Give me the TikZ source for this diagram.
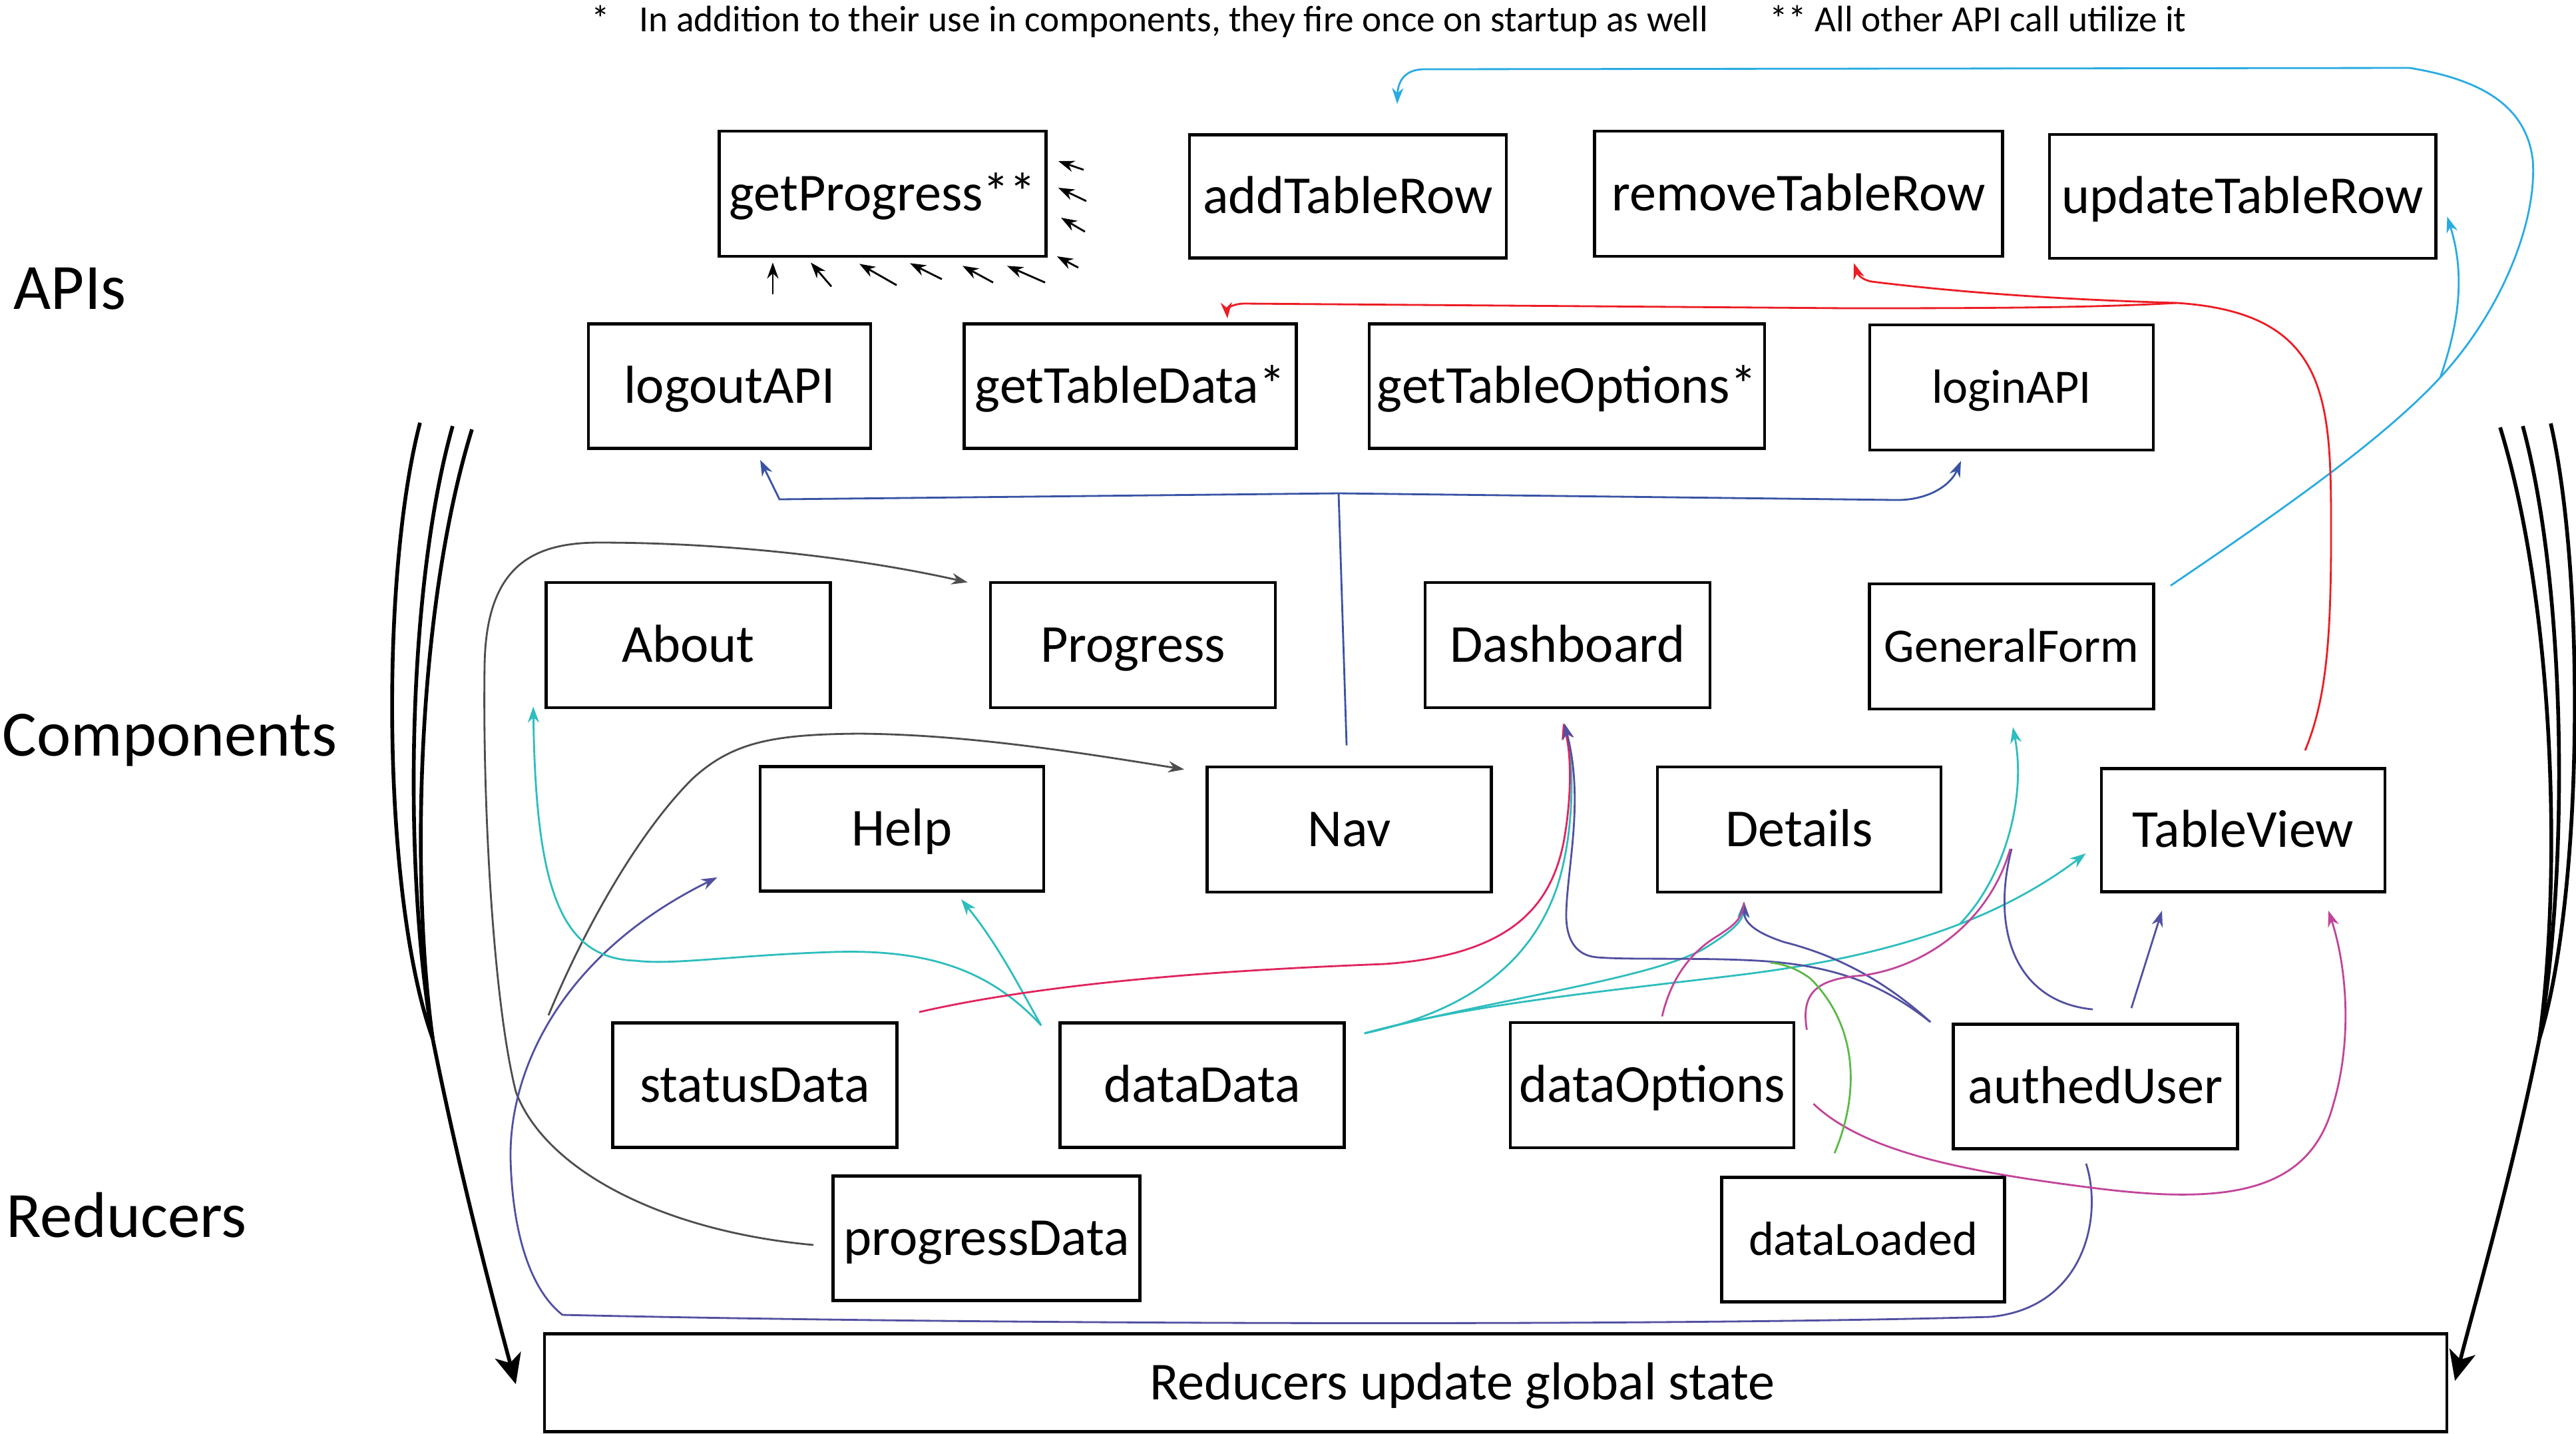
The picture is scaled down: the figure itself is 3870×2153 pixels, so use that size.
\documentclass[tikz,border=0pt]{standalone}
\usepackage{fontspec}
\setmainfont{Carlito}
\usetikzlibrary{arrows.meta,calc}
\definecolor{skyc}{HTML}{29ABE2}
\definecolor{redc}{HTML}{ED1C24}
\definecolor{bluec}{HTML}{3953A4}
\definecolor{grayc}{HTML}{4D4D4D}
\definecolor{purc}{HTML}{5250A1}
\definecolor{tealc}{HTML}{2EBDBE}
\definecolor{crimc}{HTML}{E0245E}
\definecolor{magc}{HTML}{C2449A}
\definecolor{greenc}{HTML}{5CB947}
\begin{document}
\begin{tikzpicture}[x=0.01cm,y=-0.01cm,
  box/.style={draw,line width=1.3pt,inner sep=0pt,font=\fontsize{22.8}{26}\selectfont,text height=17pt,text depth=2.3pt},
  sbox/.style={box,font=\fontsize{20.5}{24}\selectfont,text height=15.5pt,text depth=2.3pt},
  wire/.style={line width=0.8pt},
  conn/.style={wire,-{Stealth[length=0.24cm,width=0.17cm]}},
  big/.style={line width=1.6pt,black},
  bigtip/.style={big,-{Stealth[length=0.45cm,width=0.4cm,inset=0.12cm]}},
  lab/.style={anchor=base west,inner sep=0pt,font=\fontsize{27.6}{30}\selectfont},
  fnote/.style={anchor=base west,inner sep=0pt,font=\fontsize{15.75}{18}\selectfont}]
\fill[white] (0,0) rectangle (3870,2153);
\useasboundingbox (0,0) rectangle (3870,2153);

% footnotes and row labels
\node[fnote] (fn1) at (888,47) {*};
\node[fnote] (fn2) at (960,47) {In addition to their use in components, they fire once on startup as well};
\node[fnote] (fn3) at (2658,47) {** All other API call utilize it};
\node[lab] (lapi) at (20,464) {APIs};
\node[lab] (lcomp) at (3,1135) {Components};
\node[lab] (lred) at (9,1858) {Reducers};

% APIs
\node[box,minimum width=4.91cm,minimum height=1.88cm] (gp) at (1326,291) {getProgress**};
\node[box,minimum width=4.76cm,minimum height=1.85cm] (add) at (2025,295) {addTableRow};
\node[box,minimum width=6.13cm,minimum height=1.88cm] (rem) at (2702,291) {removeTableRow};
\node[box,minimum width=5.80cm,minimum height=1.86cm] (upd) at (3369,295) {updateTableRow};
\node[box,minimum width=4.24cm,minimum height=1.87cm] (logout) at (1096,580) {logoutAPI};
\node[box,minimum width=4.99cm,minimum height=1.87cm] (gtd) at (1698,580) {getTableData*};
\node[box,minimum width=5.94cm,minimum height=1.87cm] (gto) at (2354,580) {getTableOptions*};
\node[sbox,minimum width=4.26cm,minimum height=1.88cm] (login) at (3022,582) {loginAPI};
% Components
\node[box,minimum width=4.27cm,minimum height=1.88cm] (about) at (1034,969) {About};
\node[box,minimum width=4.28cm,minimum height=1.88cm] (prog) at (1702,969) {Progress};
\node[box,minimum width=4.28cm,minimum height=1.88cm] (dash) at (2355,969) {Dashboard};
\node[sbox,minimum width=4.27cm,minimum height=1.88cm] (gf) at (3022,971) {GeneralForm};
\node[box,minimum width=4.26cm,minimum height=1.87cm] (help) at (1355,1245) {Help};
\node[box,minimum width=4.27cm,minimum height=1.88cm] (nav) at (2027,1246) {Nav};
\node[box,minimum width=4.26cm,minimum height=1.88cm] (det) at (2703,1246) {Details};
\node[box,minimum width=4.26cm,minimum height=1.85cm] (tv) at (3370,1247) {TableView};
% Reducers
\node[box,minimum width=4.27cm,minimum height=1.87cm] (status) at (1134,1630) {statusData};
\node[box,minimum width=4.27cm,minimum height=1.87cm] (dd) at (1806,1630) {dataData};
\node[box,minimum width=4.26cm,minimum height=1.88cm] (dopt) at (2482,1630) {dataOptions};
\node[box,minimum width=4.27cm,minimum height=1.87cm] (au) at (3148,1632) {authedUser};
\node[box,minimum width=4.61cm,minimum height=1.87cm] (pd) at (1482,1860) {progressData};
\node[sbox,minimum width=4.25cm,minimum height=1.87cm] (dl) at (2799,1862) {dataLoaded};
\node[box,minimum width=28.56cm,minimum height=1.47cm] (rug) at (2247,2077) {Reducers update global state\rule{1cm}{0pt}};

% small arrows into getProgress**
\draw[conn,black] ($(gp.south)+(-165,55)$) -- ($(gp.south)+(-165,7)$);
\draw[conn,black] ($(gp.south)+(-77,43)$) -- ($(gp.south)+(-108,7)$);
\draw[conn,black] ($(gp.south)+(21,41)$) -- ($(gp.south)+(-35,9)$);
\draw[conn,black] ($(gp.south)+(89,32)$) -- ($(gp.south)+(41,8)$);
\draw[conn,black] ($(gp.south)+(166,37)$) -- ($(gp.south)+(120,12)$);
\draw[conn,black] ($(gp.south)+(244,37)$) -- ($(gp.south)+(187,12)$);
\draw[conn,black] ($(gp.east)+(46,111)$) -- ($(gp.east)+(14,94)$);
\draw[conn,black] ($(gp.east)+(56,57)$) -- ($(gp.east)+(20,36)$);
\draw[conn,black] ($(gp.east)+(58,11)$) -- ($(gp.east)+(16,-9)$);
\draw[conn,black] ($(gp.east)+(54,-36)$) -- ($(gp.east)+(16,-49)$);

% cyan: GeneralForm -> addTableRow, updateTableRow
\coordinate (cj) at (3666,567);
\draw[wire,skyc] ($(gf.north east)+(23,5)$) .. controls (3430,765) and (3580,660) .. (cj);
\draw[conn,skyc] (cj) .. controls (3760,465) and (3812,330) .. (3805,240) .. controls (3795,160) and (3730,120) .. (3620,102) -- (2140,104) .. controls (2108,104) and (2100,125) .. ($(add.north)+(74,-44)$);
\draw[conn,skyc] (cj) .. controls (3700,470) and (3700,400) .. ($(upd.south east)+(15,-65)$);

% red: TableView -> getTableData*, removeTableRow
\coordinate (rj) at (3270,455);
\draw[wire,redc] ($(tv.north)+(93,-25)$) .. controls (3495,1050) and (3502,960) .. (3502,800) .. controls (3502,600) and (3500,470) .. (rj);
\draw[conn,redc] (rj) .. controls (3150,462) and (3000,463) .. (2776,463) -- (1870,456) .. controls (1850,456) and (1843,465) .. ($(gtd.north east)+(-106,-6)$);
\draw[conn,redc] (rj) .. controls (3100,450) and (2950,440) .. (2812,423) .. controls (2795,420) and (2790,410) .. ($(rem.south)+(83,8)$);

% blue: Nav -> logoutAPI, loginAPI
\coordinate (bj) at (2011,741);
\draw[wire,bluec] ($(nav.north)+(-4,-30)$) -- (bj);
\draw[conn,bluec] (bj) -- (1171,750) -- ($(logout.south)+(46,15)$);
\draw[conn,bluec] (bj) -- (2847,751) .. controls (2895,752) and (2930,730) .. ($(login.south)+(-76,14)$);

% gray: progressData -> Progress, -> Nav
\draw[conn,grayc] ($(pd.west)+(-27,10)$) .. controls (1000,1850) and (820,1760) .. (775,1640) .. controls (740,1500) and (725,1200) .. (728,1000) .. controls (730,850) and (800,815) .. (900,815) .. controls (1100,815) and (1300,840) .. ($(prog.north west)+(-32,2)$);
\coordinate (gm) at (824,1525);
\draw[conn,grayc] (gm) .. controls (880,1390) and (960,1250) .. (1040,1170) .. controls (1100,1115) and (1160,1103) .. (1290,1102) .. controls (1450,1103) and (1620,1130) .. ($(nav.north west)+(-32,6)$);

% purple: authedUser -> Help
\draw[conn,purc] ($(au.south)+(-14,20)$) .. controls (3160,1830) and (3130,1965) .. (2990,1978) .. controls (2500,1992) and (1500,1990) .. (845,1975) .. controls (800,1940) and (770,1860) .. (767,1740) .. controls (765,1600) and (850,1430) .. ($(help.south west)+(-62,-23)$);

% teal: dataData -> Help, About
\coordinate (ts) at ($(dd.north west)+(-26,6)$);
\draw[conn,tealc] (ts) .. controls (1530,1480) and (1500,1420) .. ($(help.south)+(89,10)$);
\draw[conn,tealc] (ts) .. controls (1490,1460) and (1400,1425) .. (1250,1430) .. controls (1100,1435) and (1010,1450) .. (955,1443) .. controls (840,1440) and (805,1330) .. ($(about.south west)+(-17,-4)$);

% teal: dataData -> TableView, GeneralForm, Details, Dashboard
\coordinate (ts2) at ($(dd.north east)+(28,18)$);
\coordinate (tgj) at (2945,1387);
\draw[conn,tealc] (ts2) .. controls (2200,1510) and (2400,1490) .. (2600,1466) .. controls (2820,1440) and (2990,1390) .. ($(tv.south west)+(-21,-60)$);
\draw[conn,tealc] (tgj) .. controls (3010,1320) and (3045,1200) .. ($(gf.south)+(2,25)$);
\draw[conn,tealc] (ts2) .. controls (2250,1500) and (2480,1470) .. (2560,1425) .. controls (2600,1400) and (2618,1385) .. ($(det.south)+(-83,12)$);
\draw[conn,tealc] (ts2) .. controls (2200,1520) and (2300,1450) .. (2340,1330) .. controls (2365,1250) and (2365,1150) .. ($(dash.south)+(-5,21)$);

% crimson: statusData -> Dashboard
\draw[conn,crimc] ($(status.north east)+(31,-14)$) .. controls (1600,1470) and (1900,1455) .. (2080,1448) .. controls (2260,1435) and (2330,1370) .. (2350,1260) .. controls (2362,1190) and (2360,1130) .. ($(dash.south)+(-7,21)$);

% purple: authedUser -> Dashboard, Details, TableView, GeneralForm
\coordinate (ps) at ($(au.north west)+(-32,-1)$);
\draw[conn,purc] (ps) .. controls (2830,1480) and (2760,1450) .. (2640,1443) .. controls (2550,1438) and (2450,1442) .. (2400,1438) .. controls (2360,1435) and (2352,1400) .. (2353,1370) .. controls (2355,1300) and (2380,1200) .. ($(dash.south)+(-5,21)$);
\draw[conn,purc] (ps) .. controls (2850,1490) and (2780,1440) .. (2680,1415) .. controls (2635,1400) and (2620,1385) .. ($(det.south)+(-83,12)$);
\draw[conn,purc] ($(au.north)+(54,-22)$) -- ($(tv.south)+(-122,26)$);
\draw[wire,purc] ($(au.north)+(-4,-20)$) .. controls (3030,1505) and (2990,1400) .. (3022,1275);

% magenta: dataOptions -> Details, GeneralForm, TableView
\draw[wire,magc] ($(dopt.north)+(15,-7)$) .. controls (2510,1470) and (2540,1430) .. (2580,1406) .. controls (2605,1390) and (2618,1380) .. (2620,1356);
\draw[wire,magc] ($(dopt.north east)+(17,13)$) .. controls (2705,1490) and (2730,1470) .. (2800,1465) .. controls (2900,1450) and (2990,1380) .. (3020,1275);
\draw[conn,magc] ($(dopt.east)+(27,28)$) .. controls (2800,1730) and (2950,1760) .. (3150,1785) .. controls (3350,1810) and (3470,1790) .. (3505,1660) .. controls (3535,1560) and (3525,1450) .. ($(tv.south)+(128,26)$);

% green: dataLoaded
\draw[wire,greenc] ($(dl.north)+(-43,-34)$) .. controls (2795,1640) and (2790,1540) .. (2720,1470) .. controls (2700,1455) and (2680,1448) .. (2660,1446);

% big black arrows
\coordinate (lc) at (650,1560);
\draw[big] (631,635) .. controls (570,870) and (575,1350) .. (lc);
\draw[big] (680,640) .. controls (612,880) and (605,1300) .. (lc);
\draw[big] (709,645) .. controls (630,900) and (615,1300) .. (lc);
\draw[bigtip] (lc) .. controls (690,1760) and (740,1950) .. ($(rug.north west)+(-41,78)$);
\coordinate (rc) at (3815,1560);
\draw[big] (3832,636) .. controls (3885,870) and (3880,1350) .. (rc);
\draw[big] (3790,640) .. controls (3855,880) and (3860,1300) .. (rc);
\draw[big] (3756,642) .. controls (3835,900) and (3850,1300) .. (rc);
\draw[bigtip] (rc) .. controls (3775,1760) and (3720,1950) .. ($(rug.north east)+(10,73)$);
\end{tikzpicture}
\end{document}
